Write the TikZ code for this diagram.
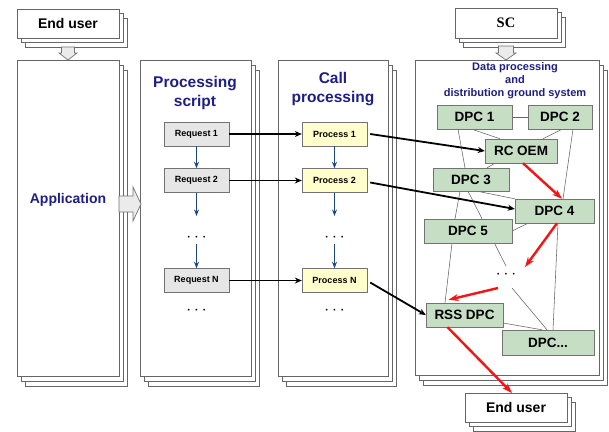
\documentclass[tikz,border=0pt]{standalone}
\usepackage{fontspec}
\setmainfont{Liberation Sans}
\newfontfamily\scfont{Liberation Serif}
\usetikzlibrary{arrows.meta,fit}
\definecolor{navy}{RGB}{30,30,135}
\definecolor{dpcgreen}{RGB}{198,223,196}
\definecolor{reqgray}{RGB}{230,230,230}
\definecolor{procyellow}{RGB}{255,255,204}
\definecolor{flowblue}{RGB}{30,70,135}
\definecolor{hotred}{RGB}{245,20,20}
\definecolor{edgegray}{RGB}{100,100,100}
\pgfdeclarelayer{back}
\pgfdeclarelayer{mid}
\pgfsetlayers{back,mid,main}

% a sheet with two copies stacked behind it: name, x1, y1, x2, y2, dx, dy
\newcommand\sheetstack[7]{%
  \begin{pgfonlayer}{back}
  \draw[sheet] (#2+2*#6,#3+2*#7) rectangle (#4+2*#6,#5+2*#7);
  \draw[sheet] (#2+#6,#3+#7) rectangle (#4+#6,#5+#7);
  \node[sheet,fit={(#2,#3) (#4,#5)},inner sep=0pt,outer sep=0pt] (#1) {};
  \end{pgfonlayer}
}

\begin{document}
\begin{tikzpicture}[x=1pt,y=-1pt,
  sheet/.style={draw=black!60,fill=white,line width=0.75pt},
  blockarrow/.style={draw=black!55,fill=black!8,line width=0.7pt,line join=miter},
  boxlabel/.style={font=\bfseries\fontsize{14}{16}\selectfont},
  title/.style={font=\bfseries\fontsize{15.5}{19}\selectfont,text=navy,align=center},
  smalltitle/.style={font=\bfseries\fontsize{11}{13}\selectfont,text=navy,align=center},
  reqbox/.style={draw=black!55,fill=reqgray,minimum width=65pt,minimum height=24pt,inner sep=0pt,font=\bfseries\fontsize{9}{10}\selectfont},
  procbox/.style={reqbox,fill=procyellow},
  dpc/.style={draw=black!55,fill=dpcgreen,inner sep=0pt,minimum height=24pt,font=\bfseries\fontsize{13.5}{15}\selectfont},
  dotsnode/.style={inner sep=1pt,font=\fontsize{16}{16}\selectfont},
  link/.style={draw=edgegray,line width=0.55pt},
  call/.style={-{Stealth[length=7pt,width=6pt]},line width=1.8pt,black},
  flow/.style={-{Stealth[length=6.5pt,width=5pt]},line width=1.6pt,flowblue},
  hot/.style={-{Stealth[length=10pt,width=7pt]},line width=2.4pt,hotred},
]
\useasboundingbox (0,0) rectangle (609,431);

% stacked sheets
\sheetstack{eu1}{17}{9}{119}{38}{4}{4.5}
\sheetstack{app}{17}{60}{119}{376}{4}{5}
\sheetstack{ps}{140}{60}{251}{376}{4}{5}
\sheetstack{cp}{278}{60}{388}{376}{4}{5}
\sheetstack{gs}{415}{60}{599}{375}{4}{5}
\sheetstack{sc}{455}{8}{557}{38}{4}{4.5}
\sheetstack{eu2}{465}{393}{567}{422}{4}{4.5}

% titles and labels
\node[boxlabel] (eu1t) at (eu1) {End user};
\node[title,font=\bfseries\fontsize{14}{16}\selectfont] (appt) at (68,200) {Application};
\node[title] (pst) at (195,93) {Processing\\script};
\node[title] (cpt) at (333,89) {Call\\processing};
\node[smalltitle] (gst) at (515,81) {Data processing\\and\\distribution ground system};
\node[font=\scfont\bfseries\fontsize{14.5}{16}\selectfont] (sct) at (sc) {SC};
\node[boxlabel] (eu2t) at (eu2) {End user};

% hollow block arrows
\draw[blockarrow] ([shift={(-6.5,9)}]eu1.south) -- ++(13,0) -- ++(0,6) -- ++(2.5,0)
  -- (app.north) -- ++(-9,-7) -- ++(2.5,0) -- cycle;
\draw[blockarrow] ([shift={(-7.5,8)}]sc.south) -- ++(15,0) -- ++(0,7) -- ++(2.5,0)
  -- ([shift={(-1,0)}]gs.north) -- ++(-10,-7) -- ++(2.5,0) -- cycle;
\draw[blockarrow] ([shift={(0,-22)}]app.east) -- ++(14,0) -- ++(0,-9)
  -- ([shift={(1,-14)}]ps.west) -- ++(-8,17) -- ++(0,-9) -- ++(-14,0) -- cycle;

% requests
\node[reqbox] (r1) at (196.5,134) {Request 1};
\node[reqbox] (r2) at (196.5,180.5) {Request 2};
\node[reqbox] (rn) at (196.5,280.5) {Request N};
\coordinate (r2end) at (196.5,216);
\node[dotsnode] (rdots) at (196.5,238) {$\cdots$};
\node[dotsnode] (rdots2) at (196.5,311) {$\cdots$};
\draw[flow] (r1) -- (r2);
\draw[flow] (r2) -- (r2end);
\draw[flow] ([shift={(0,6)}]rdots.center) -- (rn);

% processes
\node[procbox] (p1) at (334.5,134) {Process 1};
\node[procbox] (p2) at (334.5,180.5) {Process 2};
\node[procbox] (pn) at (334.5,280.5) {Process N};
\coordinate (p2end) at (334.5,216);
\node[dotsnode] (pdots) at (334.5,238) {$\cdots$};
\node[dotsnode] (pdots2) at (334.5,311) {$\cdots$};
\draw[flow] (p1) -- (p2);
\draw[flow] (p2) -- (p2end);
\draw[flow] ([shift={(0,6)}]pdots.center) -- (pn);

% processing centres
\node[dpc,minimum width=75pt] (d1) at (474.5,117) {DPC 1};
\node[dpc,minimum width=64pt] (d2) at (560,117) {DPC 2};
\node[dpc,minimum width=72pt] (rc) at (521,151) {RC OEM};
\node[dpc,minimum width=76pt,minimum height=23pt] (d3) at (471,179.5) {DPC 3};
\node[dpc,minimum width=79pt] (d4) at (554.5,211) {DPC 4};
\node[dpc,minimum width=88pt] (d5) at (468,231) {DPC 5};
\node[dpc,minimum width=77pt] (rss) at (464.5,315) {RSS DPC};
\node[dpc,minimum width=92pt,minimum height=25pt] (dx) at (548,342.5) {DPC...};
\node[dotsnode] (gd) at (506,275) {$\cdots$};

% network links between centres
\begin{pgfonlayer}{mid}
\draw[link] (d1) -- (d2);
\draw[link] ([shift={(-16.5,0)}]d1.south) -- ([shift={(-6,0)}]d3.north);
\draw[link] ([shift={(-11,0)}]d3.south) -- ([shift={(-13,0)}]d5.north);
\draw[link] ([shift={(-16,0)}]d5.south) -- ([shift={(-19.5,0)}]rss.north);
\draw[link] ([shift={(-2.5,0)}]d1.south) -- ([shift={(-21,0)}]rc.north);
\draw[link] ([shift={(2,0)}]d2.south) -- ([shift={(22,0)}]rc.north);
\draw[link] ([shift={(13,0)}]d2.south) -- ([shift={(8.5,0)}]d4.north);
\draw[link] ([shift={(-26,0)}]rc.south) -- ([shift={(16,0)}]d3.north);
\draw[link] ([shift={(6,0)}]d3.south) -- (d4.north west);
\draw[link] ([shift={(-3,0)}]d3.south) -- ([shift={(0,-9)}]gd.center);
\draw[link] (d5.east) -- ([shift={(-26.5,0)}]d4.south);
\draw[link] ([shift={(6,13)}]gd.center) -- ([shift={(-1,0)}]dx.north);
\draw[link] ([shift={(0,8)}]rss.east) -- ([shift={(-6,0)}]dx.north);
\draw[link] ([shift={(3.5,0)}]d4.south) -- ([shift={(5,0)}]dx.north);
\end{pgfonlayer}

% calls
\draw[call] (r1) -- (p1);
\draw[call] (r2) -- (p2);
\draw[call] (rn) -- (pn);
\draw[call] ([shift={(3,0)}]p1.east) -- (rc.west);
\draw[call] ([shift={(3,2)}]p2.east) -- ([shift={(0,-2)}]d4.west);
\draw[call] ([shift={(3,2)}]pn.east) -- (rss.west);

% data path
\draw[hot] ([shift={(2,0)}]rc.south) -- ([shift={(7.5,0)}]d4.north);
\draw[hot] ([shift={(2.5,0)}]d4.south) -- ([shift={(19,-8)}]gd.center);
\draw[hot] ([shift={(-8,13)}]gd.center) -- ([shift={(-16,-3)}]rss.north);
\draw[hot] ([shift={(-17,0)}]rss.south) -- ([shift={(-4,0)}]eu2.north);
\end{tikzpicture}
\end{document}
